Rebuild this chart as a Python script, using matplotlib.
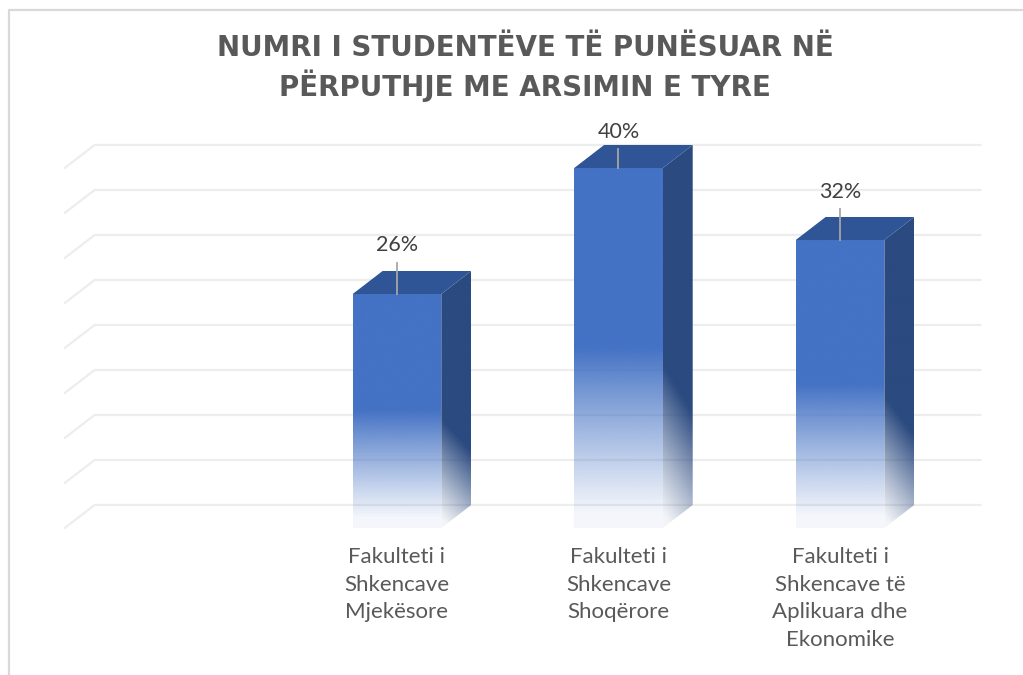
import matplotlib
matplotlib.use("Agg")
import matplotlib.pyplot as plt
from matplotlib.patches import Polygon
from matplotlib.lines import Line2D
from matplotlib.colors import to_rgb
import numpy as np

# data (first slot of the category axis is empty in the original chart)
categories = ["",
              "Fakulteti i\nShkencave\nMjekësore",
              "Fakulteti i\nShkencave\nShoqërore",
              "Fakulteti i\nShkencave të\nAplikuara dhe\nEkonomike"]
values = [np.nan, 26, 40, 32]
value_labels = ["", "26%", "40%", "32%"]
grid_values = [0, 5, 10, 15, 20, 25, 30, 35, 40]
title = "NUMRI I STUDENTËVE TË PUNËSUAR NË\nPËRPUTHJE ME ARSIMIN E TYRE"

# style
front_col = "#4472C4"
side_col = "#2B4A80"
top_col = "#2F5597"
grid_col = "#EDEDED"
text_col = "#595959"
bar_w = 0.4
dx, dy = 0.135, 2.56        # 3d depth offset (category units, percent)
label_off = [0, 5.4, 4.0, 5.3]

fig = plt.figure(figsize=(10.23, 6.75), dpi=100)
ax = fig.add_axes([0, 0, 1, 1])
ax.axis("off")
xlim = (-0.792, 3.826)
ylim = (-16.33, 58.67)


def gradient_face(ax, poly_pts, x0, x1, y0, y1, color, fade_from, slant=0.0, z=3):
    # vertical fade towards the floor, clipped to the face polygon
    ny, nx = 200, 20
    t = np.linspace(0, 1, ny)[:, None] - slant * np.linspace(0, 1, nx)[None, :]
    alpha = np.clip(t / fade_from, 0.08, 1.0) ** 1.1
    rgba = np.zeros((ny, nx, 4))
    rgba[..., :3] = to_rgb(color)
    rgba[..., 3] = alpha
    patch = Polygon(poly_pts, closed=True, facecolor="none", edgecolor="none")
    ax.add_patch(patch)
    im = ax.imshow(rgba, extent=(x0, x1, y0, y1), origin="lower",
                   aspect="auto", interpolation="bilinear", zorder=z)
    im.set_clip_path(patch)


# floor / grid lines
x_left = -0.5
x_right = len(categories) - 0.5
for g in grid_values:
    ax.plot([x_left, x_left + dx, x_right + dx], [g, g + dy, g + dy],
            color=grid_col, lw=1.6, zorder=1, solid_capstyle="round")

# bars
for i, v in enumerate(values):
    if np.isnan(v):
        continue
    xl, xr = i - bar_w / 2, i + bar_w / 2
    front = [(xl, 0), (xr, 0), (xr, v), (xl, v)]
    gradient_face(ax, front, xl, xr, 0, v, front_col, 0.5, z=4)
    side = [(xr, 0), (xr + dx, dy), (xr + dx, v + dy), (xr, v)]
    gradient_face(ax, side, xr, xr + dx, 0, v + dy, side_col, 0.42, slant=-0.12, z=3)
    top = [(xl, v), (xr, v), (xr + dx, v + dy), (xl + dx, v + dy)]
    ax.add_patch(Polygon(top, closed=True, facecolor=top_col, edgecolor="none", zorder=5))

    ax.plot([i, i], [v, v + label_off[i] - 1.9], color="#A6A6A6", lw=1.3, zorder=6)
    ax.text(i, v + label_off[i], value_labels[i], ha="center", va="center",
            fontsize=15.5, color="#404040", family="Lato", zorder=7)

# category labels
for i, c in enumerate(categories):
    if c:
        ax.text(i, -2.1, c, ha="center", va="top", fontsize=16, color=text_col,
                family="Lato", linespacing=1.48)

ax.set_xlim(*xlim)
ax.set_ylim(*ylim)

fig.text(525 / 1023, 1 - 68 / 675, title, ha="center", va="center", fontsize=20,
         fontweight="bold", color=text_col, linespacing=1.3, family="DejaVu Sans")

# chart frame
fig.add_artist(Line2D([9 / 1023, 9 / 1023, 1.0], [0.0, 1 - 10 / 675, 1 - 10 / 675],
                      transform=fig.transFigure, color="#D9D9D9", lw=1.6))

fig.savefig("out.png", dpi=100)
